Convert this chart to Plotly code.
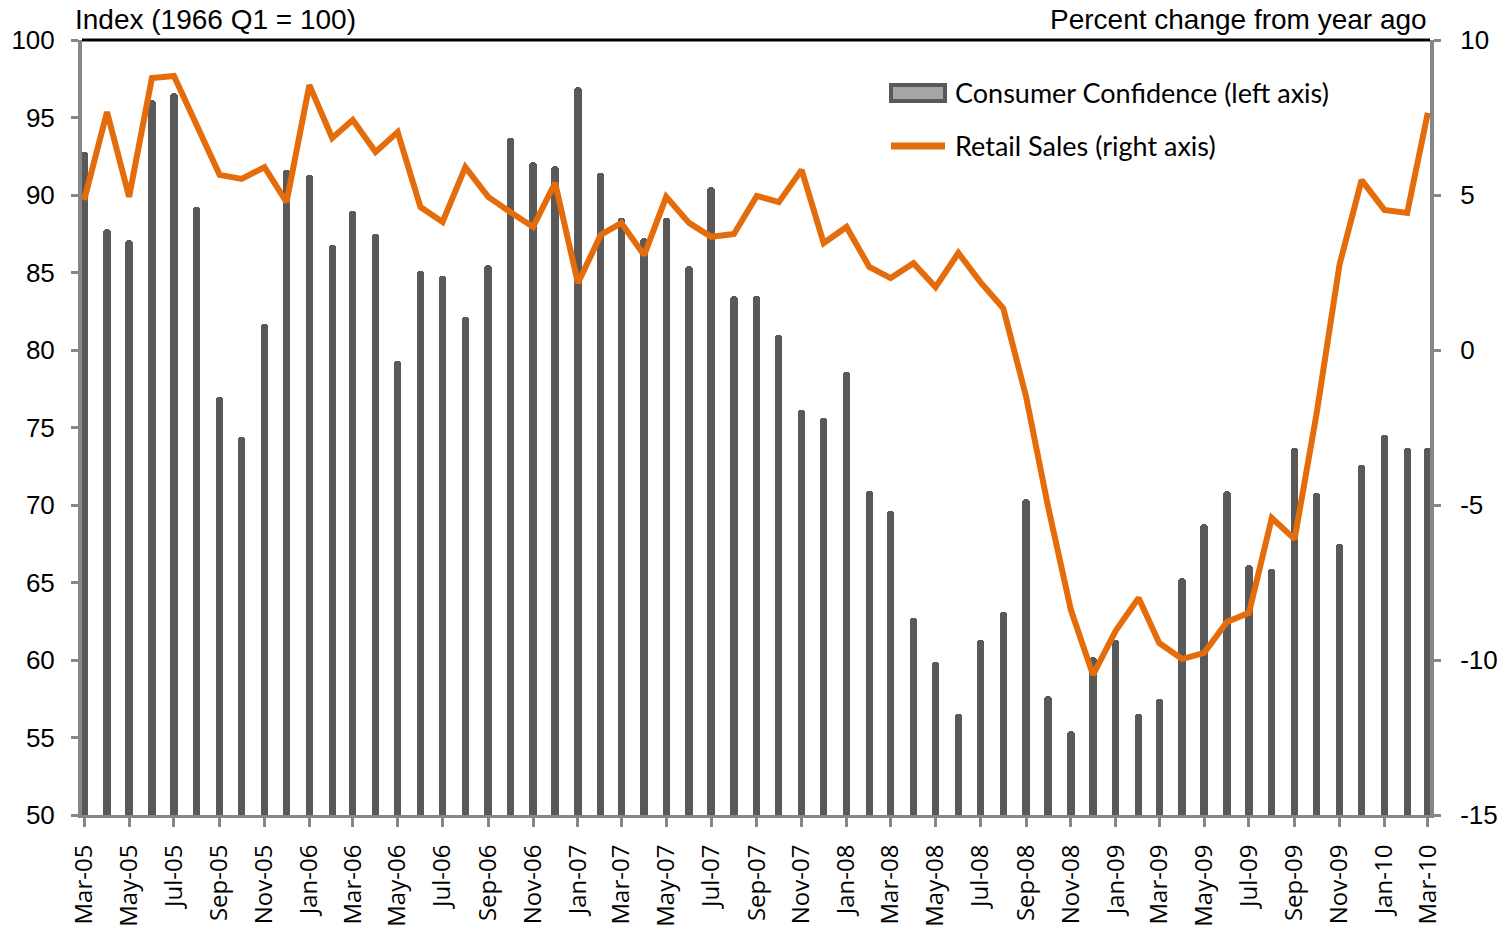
import pandas as pd
import plotly.graph_objects as go

# monthly observations, Mar-05 .. Mar-10
months = pd.date_range("2005-03-01", periods=61, freq="MS")

consumer_confidence = [
    92.8, 87.8, 87.1, 96.1, 96.6, 89.2, 77.0, 74.4, 81.7, 91.6,              # 2005
    91.3, 86.8, 89.0, 87.5, 79.3, 85.1, 84.8, 82.1, 85.5, 93.7, 92.1, 91.9,  # 2006
    97.0, 91.4, 88.5, 87.2, 88.5, 85.4, 90.5, 83.5, 83.5, 81.0, 76.1, 75.6,  # 2007
    78.6, 70.9, 69.6, 62.7, 59.9, 56.5, 61.3, 63.1, 70.4, 57.7, 55.4, 60.2,  # 2008
    61.3, 56.5, 57.5, 65.3, 68.8, 70.9, 66.1, 65.9, 73.7, 70.8, 67.5, 72.6,  # 2009
    74.5, 73.7, 73.7,                                                        # 2010
]

retail_sales = [
    4.84, 7.68, 4.94, 8.77, 8.84, 7.2, 5.65, 5.52, 5.9, 4.77,
    8.55, 6.84, 7.42, 6.39, 7.03, 4.61, 4.13, 5.9, 4.94, 4.45, 3.97, 5.39,
    2.16, 3.71, 4.1, 3.06, 4.94, 4.1, 3.65, 3.74, 4.97, 4.77, 5.81, 3.45,
    3.97, 2.68, 2.32, 2.8, 2.03, 3.13, 2.19, 1.35, -1.5, -5.06, -8.39, -10.48,
    -9.05, -8.0, -9.45, -9.97, -9.77, -8.77, -8.48, -5.42, -6.1, -2.03, 2.75, 5.48,
    4.52, 4.42, 7.65,
]

# right axis ticks, written with a plain hyphen like the original
right_ticks = [-15, -10, -5, 0, 5, 10]
right_tick_text = ["-15", "-10", "-5", "0", "5", "10"]

bar_name = "Consumer Confidence (left axis)"
line_name = "Retail Sales (right axis)"
left_title = "Index (1966 Q1 = 100)"
right_title = "Percent change from year ago"

BAR_COLOR = "#595959"
LINE_COLOR = "#E46C0A"
AXIS_COLOR = "#868686"

# plot area in pixels (for placing the hand drawn legend)
L, R, T, B = 82, 1430, 40, 815


def px_x(x):
    return (x - L) / (R - L)


def px_y(y):
    return (B - y) / (B - T)


fig = go.Figure()

fig.add_trace(go.Bar(
    x=months, y=consumer_confidence, name=bar_name,
    marker=dict(color=BAR_COLOR, line=dict(width=0), cornerradius=4),
    width=10 * 24 * 3600 * 1000,
    yaxis="y", showlegend=False,
))

fig.add_trace(go.Scatter(
    x=months, y=retail_sales, name=line_name, mode="lines",
    line=dict(color=LINE_COLOR, width=6),
    yaxis="y2", showlegend=False,
))

tick_font = dict(family="Liberation Sans, Arial, sans-serif", size=26, color="#000000")

fig.update_layout(
    width=1500, height=933,
    margin=dict(l=L, r=1500 - R, t=T, b=933 - B, autoexpand=False),
    plot_bgcolor="white", paper_bgcolor="white",
    bargap=0,
    xaxis=dict(
        type="date",
        range=["2005-02-26", "2010-03-04"],
        tick0="2005-03-01", dtick="M2", tickformat="%b-%y",
        tickangle=-90,
        tickfont=dict(family="Open Sans, sans-serif", size=24, color="#000000"),
        ticks="outside", ticklen=9, tickwidth=3, tickcolor=AXIS_COLOR,
        ticklabelstandoff=8,
        showline=True, linewidth=3, linecolor=AXIS_COLOR,
        showgrid=False, zeroline=False, automargin=False,
    ),
    yaxis=dict(
        range=[50, 100], dtick=5,
        tickfont=tick_font,
        ticks="outside", ticklen=7, tickwidth=3, tickcolor=AXIS_COLOR,
        ticklabelstandoff=11,
        showline=True, linewidth=4, linecolor=AXIS_COLOR,
        showgrid=False, zeroline=False, automargin=False,
    ),
    yaxis2=dict(
        range=[-15, 10], tickvals=right_ticks, ticktext=right_tick_text,
        overlaying="y", side="right",
        tickfont=tick_font,
        ticks="outside", ticklen=7, tickwidth=3, tickcolor=AXIS_COLOR,
        ticklabelstandoff=14,
        showline=True, linewidth=4, linecolor=AXIS_COLOR,
        showgrid=False, zeroline=False, automargin=False,
    ),
)

# black rule along the top of the plot area
fig.add_shape(type="line", xref="paper", yref="paper", x0=0, x1=1, y0=1, y1=1,
              line=dict(color="#000000", width=3))

title_font = dict(family="Liberation Sans, Arial, sans-serif", size=28, color="#000000")
fig.add_annotation(text=left_title, xref="paper", yref="paper",
                   x=px_x(73), y=px_y(20), xanchor="left", yanchor="middle",
                   showarrow=False, font=title_font)
fig.add_annotation(text=right_title, xref="paper", yref="paper",
                   x=px_x(1429), y=px_y(20), xanchor="right", yanchor="middle",
                   showarrow=False, font=title_font)

# legend
legend_font = dict(family="Lato, Carlito, sans-serif", size=27, color="#000000")
fig.add_shape(type="rect", xref="paper", yref="paper",
              x0=px_x(891), x1=px_x(945), y0=px_y(85), y1=px_y(101),
              fillcolor="#A6A6A6", line=dict(color=BAR_COLOR, width=4))
fig.add_annotation(text=bar_name, xref="paper", yref="paper",
                   x=px_x(953), y=px_y(93), xanchor="left", yanchor="middle",
                   showarrow=False, font=legend_font)
fig.add_shape(type="line", xref="paper", yref="paper",
              x0=px_x(891), x1=px_x(945), y0=px_y(146), y1=px_y(146),
              line=dict(color=LINE_COLOR, width=7))
fig.add_annotation(text=line_name, xref="paper", yref="paper",
                   x=px_x(953), y=px_y(146), xanchor="left", yanchor="middle",
                   showarrow=False, font=legend_font)

# the page's default body margin would shift the 1500x933 figure out of the window
fig.write_html("out.html", config={"displayModeBar": False},
               post_script="document.body.style.margin = '0';")
